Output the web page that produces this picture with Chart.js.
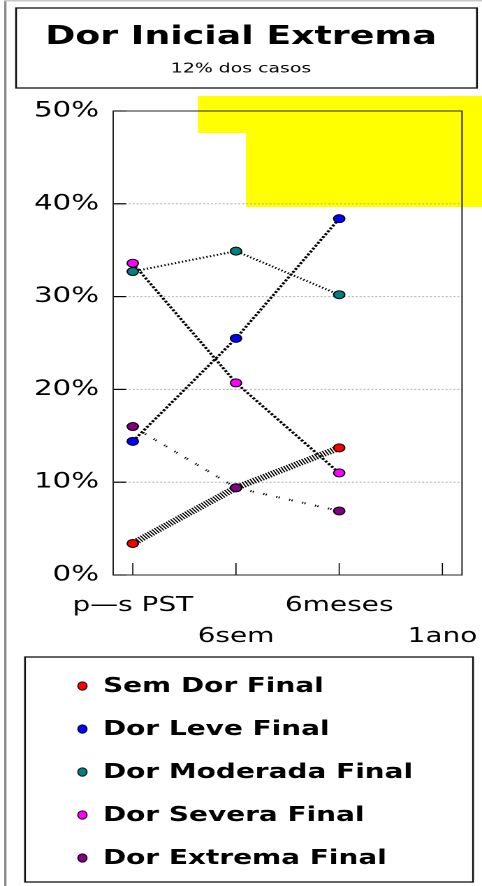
<!DOCTYPE html>
<html>
<head>
<meta charset="utf-8">
<script src="https://cdn.jsdelivr.net/npm/chart.js@4/dist/chart.umd.min.js"></script>
<style>
  html, body { margin: 0; padding: 0; background: #fff; overflow: hidden; }
  #wrap { width: 345px; height: 886px; transform: scaleX(1.3971); transform-origin: 0 0; }
</style>
</head>
<body>
<div id="wrap"><canvas id="c" width="345" height="886"></canvas></div>
<script>
// Time points
const categories = ['p—s PST', '6sem', '6meses', '1ano'];
// Share of cases (%) at each time point, by final pain level
const semDorFinal      = [3.4, 9.4, 13.7, null];
const dorLeveFinal     = [14.4, 25.5, 38.4, null];
const dorModeradaFinal = [32.7, 34.9, 30.2, null];
const dorSeveraFinal   = [33.6, 20.7, 11.0, null];
const dorExtremaFinal  = [16.0, 9.4, 6.9, null];
const yTicks = [0, 10, 20, 30, 40, 50];

const FONT = "'DejaVu Sans', Verdana, sans-serif";

function pts(arr) { return arr.map((v, i) => ({ x: i, y: v })); }

function series(label, values, color, dash, width, order) {
  return {
    label, data: pts(values), order,
    borderColor: '#000', borderWidth: width, borderDash: dash,
    pointRadius: 4, pointHoverRadius: 4,
    pointBackgroundColor: color, pointBorderColor: '#000', pointBorderWidth: 1,
    tension: 0, spanGaps: false, fill: false
  };
}

const frame = {
  id: 'frame',
  beforeDraw(chart) {
    const ctx = chart.ctx;
    ctx.save();
    // yellow block at the top right
    ctx.fillStyle = '#ffff00';
    ctx.fillRect(141.7, 96, 345 - 141.7, 37);
    ctx.fillRect(176.1, 96, 345 - 176.1, 111);
    ctx.restore();
  },
  beforeDatasetsDraw(chart) {
    const { ctx, chartArea: a, scales: { x, y } } = chart;
    ctx.save();
    // dotted horizontal grid with short inner tick marks
    yTicks.forEach(t => {
      const py = y.getPixelForValue(t);
      if (t > 0 && t < 50) {
        ctx.strokeStyle = '#b0b0b0';
        ctx.lineWidth = 1;
        ctx.setLineDash([1.4, 1.4]);
        ctx.beginPath(); ctx.moveTo(a.left, py); ctx.lineTo(a.right, py); ctx.stroke();
      }
      ctx.setLineDash([]);
      ctx.strokeStyle = '#000';
      ctx.lineWidth = 1.2;
      ctx.beginPath(); ctx.moveTo(a.left, py); ctx.lineTo(a.left + 9.3, py); ctx.stroke();
    });
    // vertical tick marks at each time point
    categories.forEach((c, i) => {
      const px = x.getPixelForValue(i);
      ctx.strokeStyle = '#000';
      ctx.lineWidth = 0.8;
      ctx.beginPath(); ctx.moveTo(px, a.bottom); ctx.lineTo(px, a.bottom - 12); ctx.stroke();
    });
    // plot frame
    ctx.strokeStyle = '#222';
    ctx.lineWidth = 1;
    ctx.strokeRect(a.left, a.top, a.right - a.left, a.bottom - a.top);
    ctx.restore();
  },
  afterDraw(chart) {
    const ctx = chart.ctx;
    ctx.save();
    // outer page edge
    ctx.fillStyle = '#8a8a8a';
    ctx.fillRect(3.0, 0, 1.6, 886);
    ctx.fillStyle = '#c8c8c8';
    ctx.fillRect(3.0, 0, 342, 1.5);
    // title box
    ctx.strokeStyle = '#111';
    ctx.lineWidth = 1.3;
    ctx.strokeRect(11.5, 8, 329.9, 80);
    // legend box
    ctx.strokeRect(17.9, 657, 320.7, 225);
    const rows = [686, 729, 772, 815, 858];
    chart.data.datasets.forEach((ds, i) => {
      const yy = rows[i];
      ctx.beginPath();
      ctx.ellipse(59, yy, 3.3, 4.2, 0, 0, Math.PI * 2);
      ctx.fillStyle = ds.pointBackgroundColor;
      ctx.fill();
      ctx.lineWidth = 0.8;
      ctx.strokeStyle = '#000';
      ctx.stroke();
      ctx.fillStyle = '#000';
      ctx.font = 'bold 20px ' + FONT;
      ctx.textAlign = 'left';
      ctx.textBaseline = 'middle';
      ctx.fillText(ds.label, 73.7, yy + 1);
    });
    ctx.restore();
  }
};

new Chart(document.getElementById('c'), {
  type: 'line',
  data: {
    datasets: [
      series('Sem Dor Final', semDorFinal, '#ff0000', [1, 1.1], 6, 4),
      series('Dor Leve Final', dorLeveFinal, '#0000ff', [2, 1.4], 2.2, 3),
      series('Dor Moderada Final', dorModeradaFinal, '#008080', [1, 1.6], 2, 1),
      series('Dor Severa Final', dorSeveraFinal, '#ff00ff', [2, 1.4], 2.2, 2),
      series('Dor Extrema Final', dorExtremaFinal, '#800080', [0.9, 0.9, 0.9, 7], 2, 0)
    ]
  },
  options: {
    responsive: false,
    devicePixelRatio: 2,
    animation: false,
    events: [],
    layout: { autoPadding: false, padding: 0 },
    plugins: {
      legend: { display: false },
      tooltip: { enabled: false },
      title: {
        display: true, text: 'Dor Inicial Extrema', color: '#000',
        font: { family: FONT, size: 26, weight: 'bold', lineHeight: 1.2 },
        padding: { top: 21.4, bottom: 0 }
      },
      subtitle: {
        display: true, text: '12% dos casos', color: '#000',
        font: { family: FONT, size: 13.5, weight: 'normal', lineHeight: 1.2 },
        padding: { top: 8.3, bottom: 33.9 }
      }
    },
    scales: {
      x: {
        type: 'linear', position: 'bottom', min: -0.19, max: 3.19,
        grid: { display: false, drawTicks: false },
        border: { display: false },
        ticks: {
          stepSize: 1, includeBounds: false, autoSkip: false, maxRotation: 0,
          color: '#000', padding: 15.5,
          font: { family: FONT, size: 20, lineHeight: 1.55 },
          callback: v => Number.isInteger(v) && categories[v] !== undefined
            ? (v % 2 === 1 ? ['', categories[v]] : categories[v]) : ''
        },
        afterFit: s => { s.height = 311; s.paddingLeft = 0; s.paddingRight = 0; }
      },
      y: {
        type: 'linear', min: 0, max: 50,
        grid: { display: false, drawTicks: false },
        border: { display: false },
        ticks: {
          stepSize: 10, color: '#000', padding: 10,
          font: { family: FONT, size: 21 },
          callback: v => v + '%'
        },
        afterFit: s => { s.width = 81; s.paddingTop = 0; s.paddingBottom = 0; }
      },
      yRight: {
        type: 'linear', position: 'right', display: true,
        grid: { display: false, drawTicks: false },
        border: { display: false },
        ticks: { display: false },
        afterFit: s => { s.width = 14.3; }
      }
    }
  },
  plugins: [frame]
});
</script>
</body>
</html>
